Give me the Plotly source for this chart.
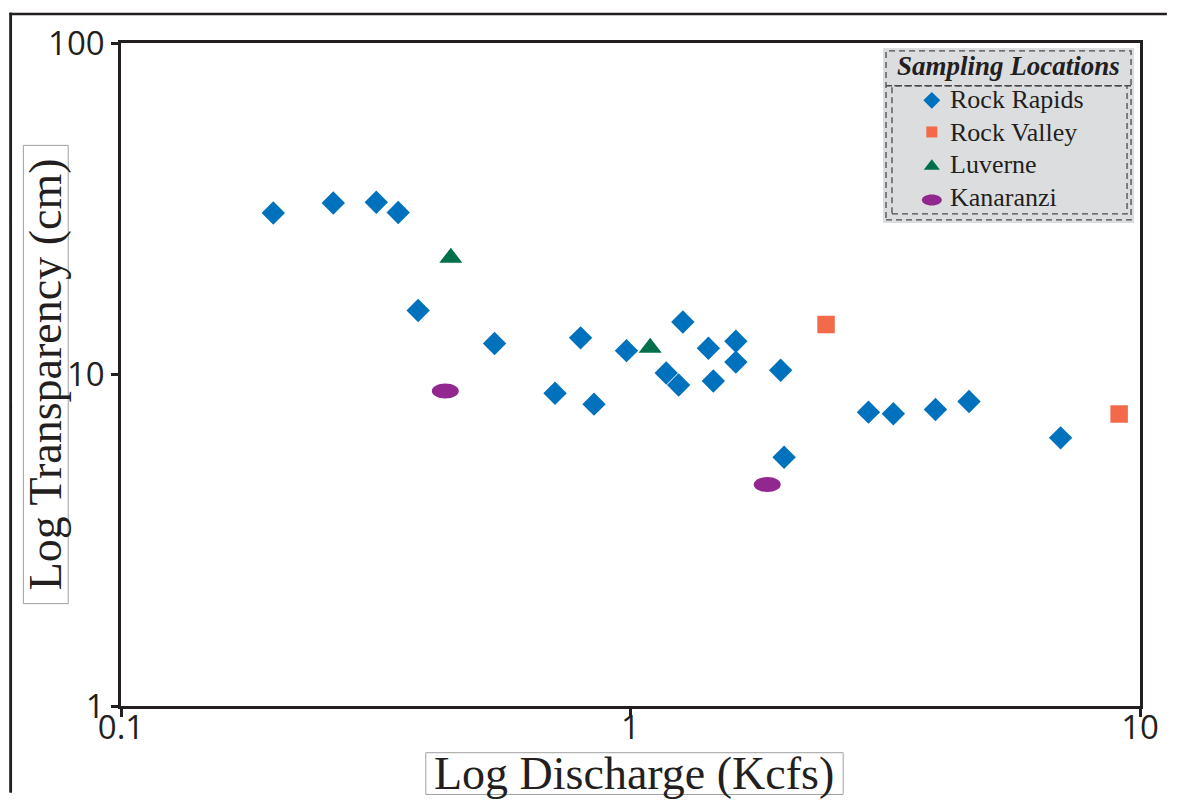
import plotly.graph_objects as go

# ---------------- data ----------------
rock_rapids_x = [0.199, 0.261, 0.317, 0.350, 0.383, 0.541, 0.711, 0.798, 0.848, 0.982,
                 1.175, 1.243, 1.267, 1.422, 1.454, 1.610, 1.610, 1.971, 2.002, 2.931,
                 3.280, 3.968, 4.617, 6.985]
rock_rapids_y = [30.7, 32.9, 33.1, 30.8, 15.6, 12.4, 8.78, 12.9, 8.14, 11.8,
                 10.1, 9.30, 14.4, 12.0, 9.56, 12.6, 10.9, 10.3, 5.63, 7.70,
                 7.61, 7.84, 8.29, 6.44]
rock_valley_x = [2.42, 9.10]
rock_valley_y = [14.15, 7.60]
luverne_x = [0.444, 1.093]
luverne_y = [22.5, 12.05]
kanaranzi_x = [0.433, 1.855]
kanaranzi_y = [8.91, 4.66]

x_tick_vals = [0.1, 1, 10]
x_tick_text = ["0.1", "1", "10"]
y_tick_vals = [1, 10, 100]
y_tick_text = ["1", "10", "100"]

series_names = ["Rock Rapids", "Rock Valley", "Luverne", "Kanaranzi"]
x_title = "Log Discharge (Kcfs)"
y_title = "Log Transparency (cm)"
legend_title = "Sampling Locations"

# ---------------- styles ----------------
BLUE = "#0071bc"
ORANGE = "#f26a4a"
GREEN = "#00704a"
PURPLE = "#92278f"
INK = "#231f20"
DASH = "#4a4a4a"

# the page body has an 8px margin on every side; the figure is sized so the
# page never scrolls and the plot area lands at page pixels x 121..1144, y 39..706
W, H = 1163, 794
L, R, T, B = 113, 27, 31, 96
PW, PH = W - L - R, H - T - B
PLOT_LEFT, PLOT_BOTTOM = 121, 706


def px(x):
    return (x - PLOT_LEFT) / PW


def py(y):
    return (PLOT_BOTTOM - y) / PH


def ellipse_path(rx, ry):
    k = 0.5523
    return (f"M {rx},0 C {rx},{ry*k} {rx*k},{ry} 0,{ry} "
            f"C {-rx*k},{ry} {-rx},{ry*k} {-rx},0 "
            f"C {-rx},{-ry*k} {-rx*k},{-ry} 0,{-ry} "
            f"C {rx*k},{-ry} {rx},{-ry*k} {rx},0 Z")


fig = go.Figure()

fig.add_trace(go.Scatter(x=rock_rapids_x, y=rock_rapids_y, mode="markers",
                         name=series_names[0], showlegend=False,
                         marker=dict(symbol="diamond", size=18, color=BLUE, opacity=1,
                                     line=dict(width=0))))
fig.add_trace(go.Scatter(x=rock_valley_x, y=rock_valley_y, mode="markers",
                         name=series_names[1], showlegend=False,
                         marker=dict(symbol="square", size=17.5, color=ORANGE, opacity=1,
                                     line=dict(width=0))))
fig.add_trace(go.Scatter(x=luverne_x, y=luverne_y, mode="markers",
                         name=series_names[2], showlegend=False,
                         marker=dict(symbol="triangle-up", size=20, color=GREEN, opacity=1,
                                     line=dict(width=0))))

shapes = []
# Kanaranzi ellipses anchored to the data through the axes
for xv, yv in zip(kanaranzi_x, kanaranzi_y):
    shapes.append(dict(type="path", xref="x", yref="y",
                       xsizemode="pixel", ysizemode="pixel",
                       xanchor=xv, yanchor=yv,
                       path=ellipse_path(13.5, 7.5),
                       fillcolor=PURPLE, line=dict(width=0), layer="above"))

# outer frame of the figure: top edge and left edge (left edge in pieces)
shapes.append(dict(type="rect", xref="paper", yref="paper",
                   x0=px(9.0), x1=px(1171), y0=py(11.2), y1=py(8.6),
                   fillcolor=INK, line=dict(width=0), layer="above"))
for ya, yb in [(8.6, 39), (39, 220), (220, 400), (400, 793)]:
    shapes.append(dict(type="line", xref="paper", yref="paper",
                       x0=px(10.3), x1=px(10.3), y0=py(yb), y1=py(ya),
                       line=dict(color=INK, width=2.6), layer="above"))
    shapes.append(dict(type="rect", xref="paper", yref="paper",
                       x0=px(9.0), x1=px(11.6), y0=py(yb), y1=py(ya),
                       fillcolor=INK, line=dict(width=0), layer="above"))
# axis title boxes
shapes.append(dict(type="rect", xref="paper", yref="paper",
                   x0=px(23), x1=px(68), y0=py(603), y1=py(142),
                   line=dict(color="#a0a0a0", width=1), layer="above"))
shapes.append(dict(type="rect", xref="paper", yref="paper",
                   x0=px(427), x1=px(846), y0=py(795), y1=py(753),
                   line=dict(color="#a0a0a0", width=1), layer="above"))
# legend box
shapes.append(dict(type="rect", xref="paper", yref="paper",
                   x0=px(886), x1=px(1138), y0=py(220), y1=py(44),
                   fillcolor="#dcdddf", line=dict(width=0), layer="below"))
shapes.append(dict(type="rect", xref="paper", yref="paper",
                   x0=px(889), x1=px(1135), y0=py(217), y1=py(47),
                   line=dict(color=DASH, width=1.3, dash="6px,4px"), layer="above"))
shapes.append(dict(type="line", xref="paper", yref="paper",
                   x0=px(889), x1=px(1135), y0=py(82), y1=py(82),
                   line=dict(color=DASH, width=1.3, dash="6px,4px"), layer="above"))
shapes.append(dict(type="rect", xref="paper", yref="paper",
                   x0=px(895), x1=px(1131), y0=py(211), y1=py(82),
                   line=dict(color=DASH, width=1.3, dash="6px,4px"), layer="above"))

# legend symbols (overlay subplot in paper-like units)
leg_x = px(935)
leg_rows = [96.7, 128.5, 163.0, 197.0]
fig.add_trace(go.Scatter(x=[leg_x, leg_x, leg_x],
                         y=[py(leg_rows[0]), py(leg_rows[1]), py(leg_rows[2])],
                         xaxis="x2", yaxis="y2", mode="markers", showlegend=False,
                         hoverinfo="skip",
                         marker=dict(symbol=["diamond", "square", "triangle-up"],
                                     size=[13, 11, 14], color=[BLUE, ORANGE, GREEN],
                                     opacity=1, line=dict(width=0))))
shapes.append(dict(type="path", xref="x2", yref="y2",
                   xsizemode="pixel", ysizemode="pixel",
                   xanchor=leg_x, yanchor=py(leg_rows[3]),
                   path=ellipse_path(10, 5.5),
                   fillcolor=PURPLE, line=dict(width=0), layer="above"))

annotations = []
annotations.append(dict(text=x_title, xref="paper", yref="paper",
                        x=px(636.5), y=py(773.5), xanchor="center", yanchor="middle",
                        showarrow=False,
                        font=dict(family="Liberation Serif", size=46, color=INK)))
annotations.append(dict(text=y_title, xref="paper", yref="paper",
                        x=px(45.5), y=py(372.5), xanchor="center", yanchor="middle",
                        textangle=-90, showarrow=False,
                        font=dict(family="Liberation Serif", size=46, color=INK)))
annotations.append(dict(text="<b><i>" + legend_title + "</i></b>", xref="paper", yref="paper",
                        x=px(1011.7), y=py(62.4), xanchor="center", yanchor="middle",
                        showarrow=False,
                        font=dict(family="Liberation Serif", size=27, color=INK)))
text_rows = [96.2, 128.9, 161.0, 194.5]
for name, ty in zip(series_names, text_rows):
    annotations.append(dict(text=name, xref="paper", yref="paper",
                            x=px(951), y=py(ty), xanchor="left", yanchor="middle",
                            showarrow=False,
                            font=dict(family="Liberation Serif", size=26, color=INK)))

axis_common = dict(showgrid=False, zeroline=False, showline=True, linecolor=INK,
                   linewidth=2.5, mirror=True, ticks="outside", tickcolor=INK,
                   tickwidth=2.5,
                   tickfont=dict(family="Open Sans", size=33, color=INK))

fig.update_layout(
    width=W, height=H,
    margin=dict(l=L, r=R, t=T, b=B),
    paper_bgcolor="white",
    plot_bgcolor="rgba(0,0,0,0)",
    showlegend=False,
    xaxis=dict(type="log", range=[-1, 1], tickvals=x_tick_vals, ticktext=x_tick_text,
               ticklen=8, ticklabelstandoff=-17, **axis_common),
    yaxis=dict(type="log", range=[0, 2], tickvals=y_tick_vals, ticktext=y_tick_text,
               ticklen=7, **axis_common),
    xaxis2=dict(domain=[0, 1], range=[0, 1], visible=False, anchor="y2", fixedrange=True),
    yaxis2=dict(domain=[0, 1], range=[0, 1], visible=False, anchor="x2", fixedrange=True),
    shapes=shapes,
    annotations=annotations,
)

fig.write_html("out.html")
